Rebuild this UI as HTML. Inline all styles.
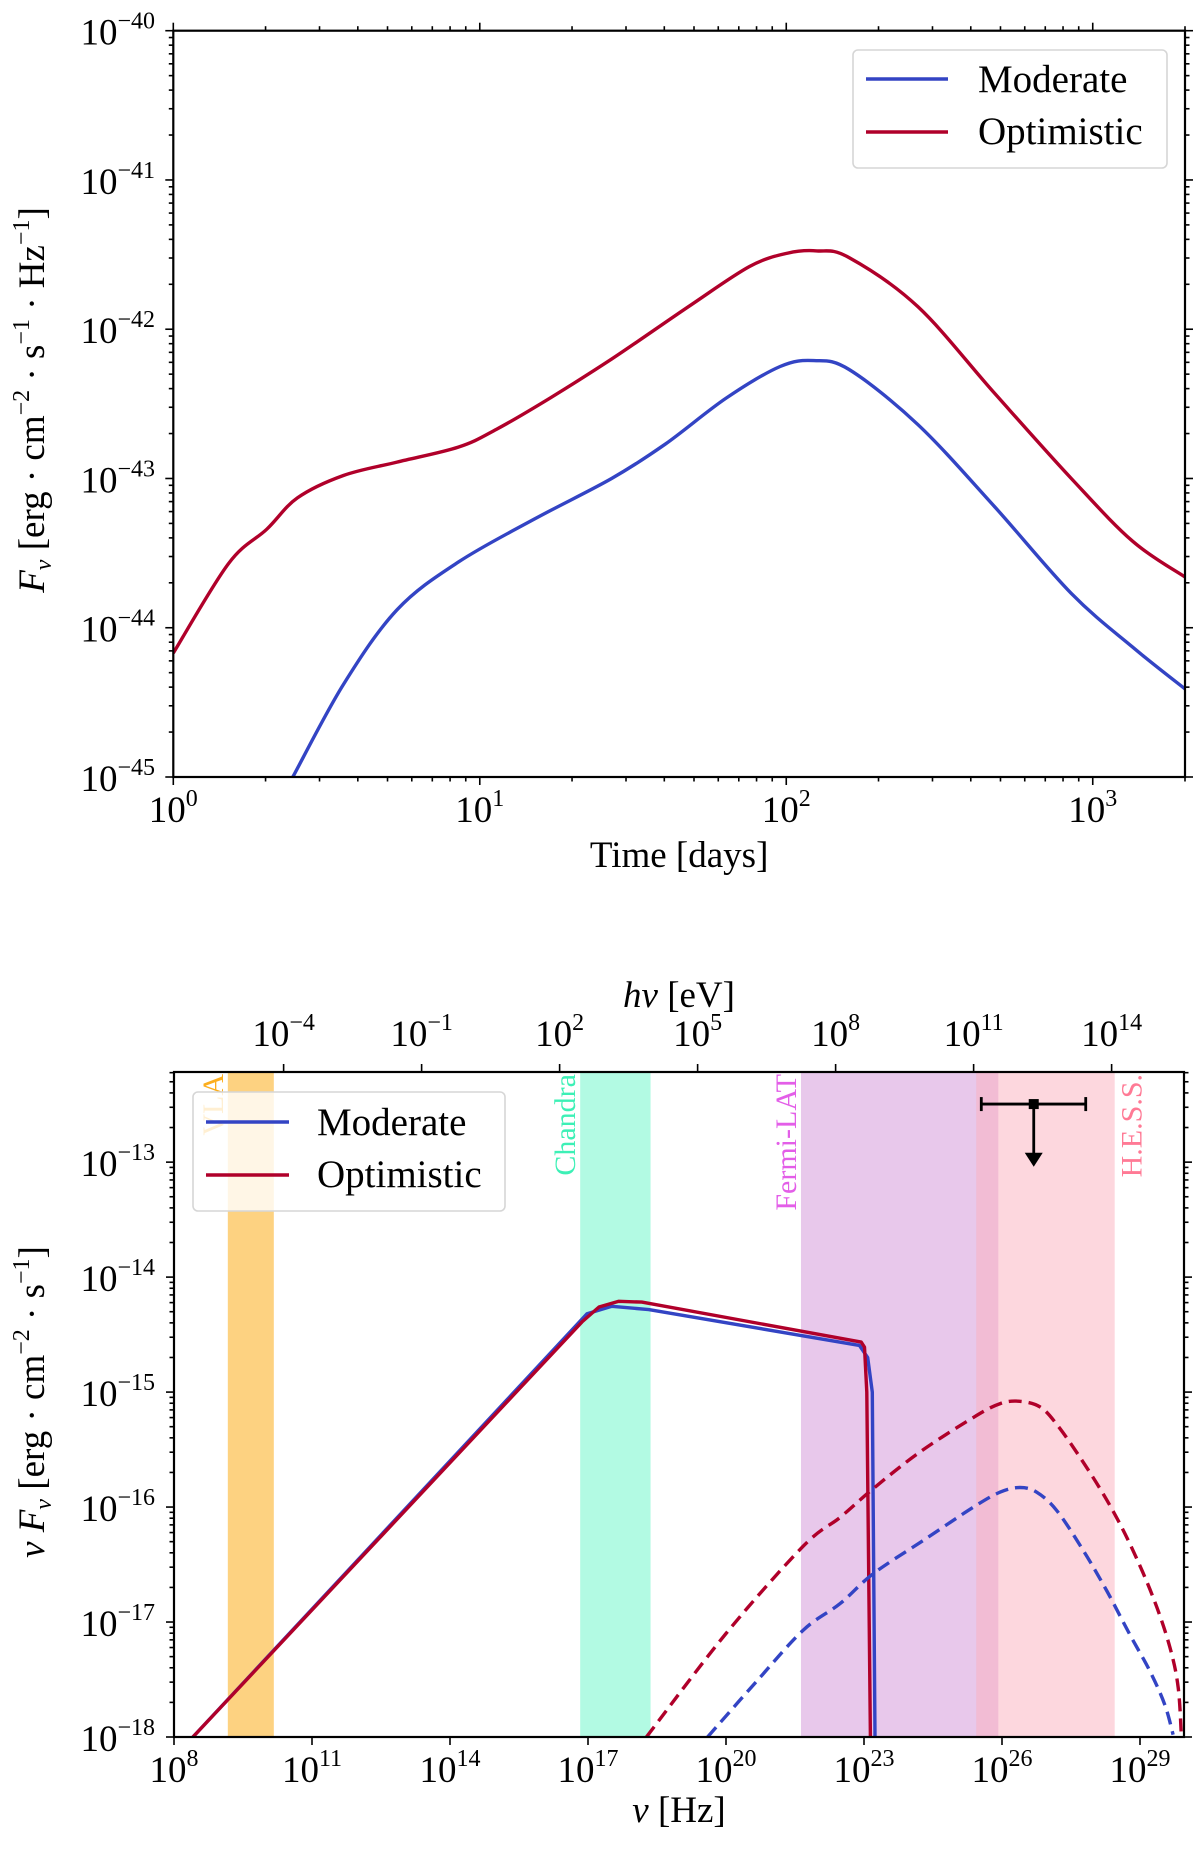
<!DOCTYPE html>
<html><head><meta charset="utf-8">
<style>
html,body{margin:0;padding:0;background:#fff;}
svg{display:block;font-family:"Liberation Serif","DejaVu Serif",serif;}
</style></head>
<body>
<svg id="fig" width="1200" height="1849" viewBox="0 0 1200 1849" xmlns="http://www.w3.org/2000/svg"></svg>
<script>
// ---------- Top panel data (log10 days, log10 flux) ----------
const topOptT = [0,0.18,0.305,0.405,0.555,0.73,0.93,1.055,1.23,1.43,1.68,1.88,2.005,2.1,2.205,2.43,2.68,2.93,3.13,3.301];
const topOptF = [-44.17,-43.57,-43.34,-43.13,-42.98,-42.89,-42.79,-42.67,-42.46,-42.20,-41.85,-41.58,-41.49,-41.475,-41.52,-41.85,-42.43,-43.0,-43.42,-43.66];
const topModT = [0.39,0.555,0.73,0.93,1.18,1.43,1.605,1.805,1.98,2.09,2.205,2.43,2.68,2.93,3.13,3.301];
const topModF = [-45,-44.38,-43.88,-43.56,-43.27,-43.0,-42.77,-42.46,-42.25,-42.21,-42.27,-42.64,-43.19,-43.77,-44.13,-44.41];
const topXTicks = [0,1,2,3];
const topYTicks = [-40,-41,-42,-43,-44,-45];

// ---------- Bottom panel data (log10 Hz, log10 nuFnu) ----------
const modSolidNu = [8.41,16.98,17.52,18.32,22.90,23.08,23.18,23.24];
const modSolidF  = [-18,-14.318,-14.254,-14.283,-14.594,-14.70,-15.0,-18];
const optSolidNu = [8.41,16.87,17.24,17.67,18.17,22.94,23.01,23.06,23.14];
const optSolidF  = [-18,-14.39,-14.26,-14.21,-14.217,-14.565,-14.61,-15.0,-18];
const optDashNu = [18.27,20.0,21.68,22.48,23.20,24.22,25.38,25.96,26.39,26.83,27.19,27.70,28.28,28.78,29.29,29.65,29.83,29.90];
const optDashF  = [-18,-17.1,-16.34,-16.09,-15.84,-15.52,-15.22,-15.10,-15.08,-15.13,-15.28,-15.57,-15.94,-16.32,-16.79,-17.22,-17.57,-18.0];
const modDashNu = [19.6,20.7,21.68,22.48,23.20,24.29,25.38,25.96,26.39,26.75,27.19,27.77,28.28,28.78,29.22,29.54,29.72];
const modDashF  = [-18,-17.5,-17.07,-16.84,-16.58,-16.29,-16.0,-15.87,-15.83,-15.87,-16.03,-16.38,-16.73,-17.11,-17.43,-17.72,-17.98];
const bandNames = ["VLA","Chandra","Fermi-LAT","H.E.S.S."];
const bandLo = [9.17,16.83,21.63,25.44];
const bandHi = [10.17,18.36,25.92,28.45];
const ulNu = [26.69]; const ulNuLo=[25.55]; const ulNuHi=[27.82]; const ulF=[-12.495]; const ulArrowF=[-13.04];
const botXTicks = [8,11,14,17,20,23,26,29];
const botYTicks = [-13,-14,-15,-16,-17,-18];
const eVTicks = [-4,-1,2,5,8,11,14];

const NS="http://www.w3.org/2000/svg";
const svg=document.getElementById('fig');
function el(tag,attrs,parent){const e=document.createElementNS(NS,tag);for(const k in attrs)e.setAttribute(k,attrs[k]);(parent||svg).appendChild(e);return e;}

const T={x0:173.3,x1:1185,y0:30.7,y1:777,xmin:0,xmax:Math.log10(2000),ymin:-45,ymax:-40};
const B={x0:174,x1:1184,y0:1072,y1:1737,xmin:8,xmax:8+1010/46,ymin:-18,ymax:-13+90/114.8};
function sx(A,v){return A.x0+(v-A.xmin)/(A.xmax-A.xmin)*(A.x1-A.x0);}
function sy(A,v){return A.y1-(v-A.ymin)/(A.ymax-A.ymin)*(A.y1-A.y0);}

function powLabel(parent,x,y,exp,anchor,name){
  const t=el('text',{x:x,y:y,'font-size':37,'text-anchor':anchor,fill:'#000'},parent);
  
  
  const a=el('tspan',{},t);a.textContent='10';
  const b=el('tspan',{dy:-16,'font-size':24},t);b.textContent=(exp<0?'\u2212'+(-exp):String(exp));
  return t;
}
function pathD(A,xs,ys,smooth){
  const P=xs.map((v,i)=>[sx(A,v),sy(A,ys[i])]);
  let d='M'+P[0][0].toFixed(1)+','+P[0][1].toFixed(1);
  for(let i=0;i<P.length-1;i++){
    if(!smooth){d+='L'+P[i+1][0].toFixed(1)+','+P[i+1][1].toFixed(1);continue;}
    const p0=P[Math.max(0,i-1)],p1=P[i],p2=P[i+1],p3=P[Math.min(P.length-1,i+2)];
    const c1=[p1[0]+(p2[0]-p0[0])/6,p1[1]+(p2[1]-p0[1])/6];
    const c2=[p2[0]-(p3[0]-p1[0])/6,p2[1]-(p3[1]-p1[1])/6];
    d+='C'+c1[0].toFixed(1)+','+c1[1].toFixed(1)+' '+c2[0].toFixed(1)+','+c2[1].toFixed(1)+' '+p2[0].toFixed(1)+','+p2[1].toFixed(1);
  }
  return d;
}
function curve(A,xs,ys,color,dash,smooth,parent){
  const attrs={d:pathD(A,xs,ys,smooth),fill:'none',stroke:color,'stroke-width':3.4,'stroke-linejoin':'round'};
  if(dash)attrs['stroke-dasharray']='13,7';
  return el('path',attrs,parent);
}
const BLUE='#3344c4', RED='#b0002a';

// ================= TOP PANEL =================
const gT=el('g',{});


const clipT=el('clipPath',{id:'clipT'},gT);el('rect',{x:T.x0,y:T.y0,width:T.x1-T.x0,height:T.y1-T.y0},clipT);
const curvesT=el('g',{'clip-path':'url(#clipT)'},gT);
const pO=curve(T,topOptT,topOptF,RED,false,true,curvesT);


const pM=curve(T,topModT,topModF,BLUE,false,true,curvesT);


el('rect',{x:T.x0,y:T.y0,width:T.x1-T.x0,height:T.y1-T.y0,fill:'none',stroke:'#000','stroke-width':2.2},gT);
for(let d=0;d<=3;d++){for(let m=1;m<10;m++){const v=d+Math.log10(m);if(v>T.xmax+1e-9)break;const x=sx(T,v);const L=m===1?8:4.5;
  el('line',{x1:x,x2:x,y1:T.y1,y2:T.y1+L,stroke:'#000','stroke-width':1.6},gT);
  el('line',{x1:x,x2:x,y1:T.y0,y2:T.y0-L,stroke:'#000','stroke-width':1.6},gT);}}
topXTicks.forEach(v=>{powLabel(gT,sx(T,v),T.y1+45,v,'middle','x-tick-label');});
for(let d=-45;d<-40;d++){for(let m=1;m<10;m++){const v=d+Math.log10(m);const y=sy(T,v);const L=m===1?8:4.5;
  el('line',{x1:T.x0,x2:T.x0-L,y1:y,y2:y,stroke:'#000','stroke-width':1.6},gT);
  el('line',{x1:T.x1,x2:T.x1+L,y1:y,y2:y,stroke:'#000','stroke-width':1.6},gT);}}
el('line',{x1:T.x0,x2:T.x0-8,y1:T.y0,y2:T.y0,stroke:'#000','stroke-width':1.6},gT);
el('line',{x1:T.x1,x2:T.x1+8,y1:T.y0,y2:T.y0,stroke:'#000','stroke-width':1.6},gT);
topYTicks.forEach(v=>{powLabel(gT,155,sy(T,v)+14,v,'end','y-tick-label');});
const tx=el('text',{x:(T.x0+T.x1)/2,y:867,'font-size':37,'text-anchor':'middle'},gT);


tx.textContent='Time [days]';
const ty=el('text',{x:0,y:0,'font-size':37,'text-anchor':'middle',transform:'translate(44,400) rotate(-90)'},gT);


ty.innerHTML='<tspan font-style="italic">F</tspan><tspan font-style="italic" font-size="24" dy="7">ν</tspan><tspan dy="-7"> [erg · cm</tspan><tspan font-size="24" dy="-15">−2</tspan><tspan dy="15"> · s</tspan><tspan font-size="24" dy="-15">−1</tspan><tspan dy="15"> · Hz</tspan><tspan font-size="24" dy="-15">−1</tspan><tspan dy="15">]</tspan>';

function legend(parent,x,y,w,h,lx1,lx2,ly1,ly2,tx,name){
  const g=el('g',{},parent);
  
  
  el('rect',{x:x,y:y,width:w,height:h,rx:5,fill:'rgba(255,255,255,0.8)',stroke:'#d6d6d6','stroke-width':1.6},g);
  el('line',{x1:lx1,x2:lx2,y1:ly1,y2:ly1,stroke:BLUE,'stroke-width':3.4},g);
  el('line',{x1:lx1,x2:lx2,y1:ly2,y2:ly2,stroke:RED,'stroke-width':3.4},g);
  const a=el('text',{x:tx,y:ly1+13,'font-size':39},g);a.textContent='Moderate';
  
  
  const b=el('text',{x:tx,y:ly2+12,'font-size':39},g);b.textContent='Optimistic';
  
  
}
legend(gT,853,50,314,118,866,948,79,132,978,'legend');

// ================= BOTTOM PANEL =================
const gB=el('g',{});


const clipB=el('clipPath',{id:'clipB'},gB);el('rect',{x:B.x0,y:B.y0,width:B.x1-B.x0,height:B.y1-B.y0},clipB);
const inner=el('g',{'clip-path':'url(#clipB)'},gB);
const bandFill=['rgba(252,165,3,0.5)','rgba(102,245,200,0.5)','rgba(210,145,215,0.5)','rgba(252,175,190,0.5)'];
const bandText=['#fcae1e','#3df0b6','#e35ee8','#ff7a95'];
bandNames.forEach((n,i)=>{
  const r=el('rect',{x:sx(B,bandLo[i]),y:B.y0,width:sx(B,bandHi[i])-sx(B,bandLo[i]),height:B.y1-B.y0,fill:bandFill[i]},inner);
  
  
});
const s1=curve(B,modSolidNu,modSolidF,BLUE,false,false,inner);


const s2=curve(B,optSolidNu,optSolidF,RED,false,false,inner);


const s3=curve(B,optDashNu,optDashF,RED,true,true,inner);


const s4=curve(B,modDashNu,modDashF,BLUE,true,true,inner);


// band labels (rotated): H.E.S.S. label sits right of its band, others left
bandNames.forEach((n,i)=>{
  const xx=(i===3)?sx(B,bandHi[i])+27:sx(B,bandLo[i])-5;
  const t=el('text',{x:0,y:0,'font-size':30,'text-anchor':'end',fill:bandText[i],transform:'translate('+xx+','+(B.y0+2)+') rotate(-90)'},gB);
  
  
  t.textContent=n;
});
const ug=el('g',{},gB);


const ux=sx(B,ulNu[0]),uy=sy(B,ulF[0]),ua=sy(B,ulArrowF[0]);
el('line',{x1:sx(B,ulNuLo[0]),x2:sx(B,ulNuHi[0]),y1:uy,y2:uy,stroke:'#000','stroke-width':2.8},ug);
el('line',{x1:sx(B,ulNuLo[0]),x2:sx(B,ulNuLo[0]),y1:uy-7,y2:uy+7,stroke:'#000','stroke-width':2.8},ug);
el('line',{x1:sx(B,ulNuHi[0]),x2:sx(B,ulNuHi[0]),y1:uy-7,y2:uy+7,stroke:'#000','stroke-width':2.8},ug);
el('line',{x1:ux,x2:ux,y1:uy,y2:ua-12,stroke:'#000','stroke-width':2.8},ug);
el('polygon',{points:(ux-9)+','+(ua-14)+' '+(ux+9)+','+(ua-14)+' '+ux+','+ua,fill:'#000'},ug);
el('rect',{x:ux-5,y:uy-5,width:10,height:10,fill:'#000'},ug);
el('rect',{x:B.x0,y:B.y0,width:B.x1-B.x0,height:B.y1-B.y0,fill:'none',stroke:'#000','stroke-width':2.2},gB);
botXTicks.forEach(v=>{const x=sx(B,v);el('line',{x1:x,x2:x,y1:B.y1,y2:B.y1+8,stroke:'#000','stroke-width':1.6},gB);powLabel(gB,x,B.y1+45,v,'middle','x-tick-label');});
eVTicks.forEach(v=>{const x=sx(B,v+14.383);el('line',{x1:x,x2:x,y1:B.y0,y2:B.y0-8,stroke:'#000','stroke-width':1.6},gB);powLabel(gB,x,1046,v,'middle','top-x-tick-label');});
for(let d=-18;d<=-13;d++){for(let m=1;m<10;m++){const v=d+Math.log10(m);if(v>B.ymax)break;const y=sy(B,v);const L=m===1?8:4.5;
  el('line',{x1:B.x0,x2:B.x0-L,y1:y,y2:y,stroke:'#000','stroke-width':1.6},gB);
  el('line',{x1:B.x1,x2:B.x1+L,y1:y,y2:y,stroke:'#000','stroke-width':1.6},gB);}}
botYTicks.forEach(v=>{powLabel(gB,155,sy(B,v)+14,v,'end','y-tick-label');});
legend(gB,193,1092,312,119,206,289,1122,1175,317,'legend');
const bx=el('text',{x:(B.x0+B.x1)/2,y:1822,'font-size':37,'text-anchor':'middle'},gB);


bx.innerHTML='<tspan font-style="italic">ν</tspan> [Hz]';
const tt=el('text',{x:(B.x0+B.x1)/2,y:1007,'font-size':37,'text-anchor':'middle'},gB);


tt.innerHTML='<tspan font-style="italic">hν</tspan> [eV]';
const by=el('text',{x:0,y:0,'font-size':37,'text-anchor':'middle',transform:'translate(44,1402) rotate(-90)'},gB);


by.innerHTML='<tspan font-style="italic">ν F</tspan><tspan font-style="italic" font-size="24" dy="7">ν</tspan><tspan dy="-7"> [erg · cm</tspan><tspan font-size="24" dy="-15">−2</tspan><tspan dy="15"> · s</tspan><tspan font-size="24" dy="-15">−1</tspan><tspan dy="15">]</tspan>';
</script>
</body></html>
